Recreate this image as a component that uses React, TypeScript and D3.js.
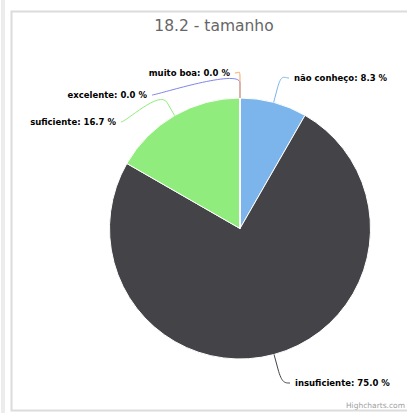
import React from "react";
import * as d3 from "d3";

const categories = ["não conheço", "insuficiente", "suficiente", "excelente", "muito boa"];
const percents = [8.3, 75.0, 16.7, 0.0, 0.0];
const colors = ["#7cb5ec", "#434348", "#90ed7d", "#8085e9", "#f7a35c"];
const title = "18.2 - tamanho";

// label layout (connector start points), not data
const labelLayout = [
  { x: 289, y: 78, side: 1 },
  { x: 290, y: 383, side: 1 },
  { x: 121, y: 122, side: -1 },
  { x: 152, y: 95, side: -1 },
  { x: 235, y: 73, side: -1 },
];

const W = 407;
const H = 413;
const cx = 240;
const cy = 228.5;
const R = 130.5;

export default function App() {
  const pie = d3
    .pie<number>()
    .sort(null)
    .value((d) => d)
    .startAngle(0)
    .endAngle(2 * Math.PI);
  const arcs = pie(percents);
  const arcGen = d3.arc<d3.PieArcDatum<number>>().innerRadius(0).outerRadius(R);

  const pt = (a: number, r: number) => [cx + r * Math.sin(a), cy - r * Math.cos(a)];

  return (
    <svg
      width={W}
      height={H}
      style={{ position: "absolute", left: 0, top: 0, background: "#fff" }}
      fontFamily="'DejaVu Sans', sans-serif"
    >
      <rect x={0} y={0} width={W} height={H} fill="#fff" />
      <rect x={1} y={0} width={4} height={H} fill="#ececec" />
      <rect x={11.5} y={11.5} width={W} height={399} fill="#fff" stroke="#dcdcdc" strokeWidth={2} />
      <text x={214} y={31} textAnchor="middle" fontSize={15.5} fill="#666">
        {title}
      </text>
      <g>
        {arcs.map((a, i) => (
          <path
            key={i}
            d={arcGen(a) || ""}
            transform={`translate(${cx},${cy})`}
            fill={colors[i]}
            stroke="#fff"
            strokeWidth={1}
          />
        ))}
      </g>
      <g>
        {arcs.map((a, i) => {
          const mid = (a.startAngle + a.endAngle) / 2;
          const [ex, ey] = pt(mid, R);
          const [bx, by] = pt(mid, R + 15);
          const L = labelLayout[i];
          const d = `M${L.x},${L.y} C${L.x - 5 * L.side},${L.y} ${2 * bx - ex},${2 * by - ey} ${bx},${by} L${ex},${ey}`;
          return (
            <g key={i}>
              <path d={d} fill="none" stroke={colors[i]} strokeWidth={1} />
              <text
                x={L.x + 5 * L.side}
                y={L.y}
                dy="0.35em"
                textAnchor={L.side > 0 ? "start" : "end"}
                fontSize={8.5}
                fontWeight="bold"
                fill="#000"
              >
                {`${categories[i]}: ${percents[i].toFixed(1)} %`}
              </text>
            </g>
          );
        })}
      </g>
      <text x={405} y={408} textAnchor="end" fontSize={7.5} fill="#a0a0a0">
        Highcharts.com
      </text>
    </svg>
  );
}
